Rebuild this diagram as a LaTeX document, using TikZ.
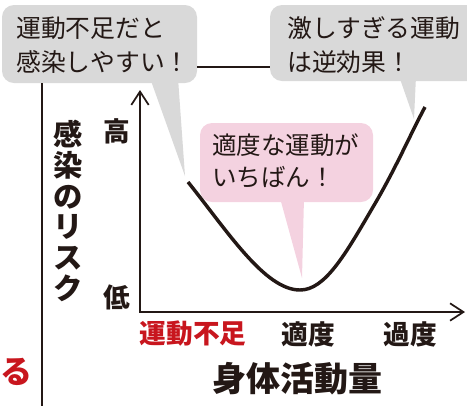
\documentclass[tikz,border=0pt]{standalone}
\usepackage{fontspec}
\setmainfont{Noto Sans CJK JP}
\usetikzlibrary{arrows.meta}
\definecolor{ink}{RGB}{35,24,21}
\definecolor{bubblegrey}{RGB}{217,217,217}
\definecolor{bubblepink}{RGB}{244,210,224}
\definecolor{alertred}{RGB}{200,22,30}
\tikzset{
  bubble/.style={rounded corners=9pt, inner sep=0pt},
  greybubble/.style={bubble, fill=bubblegrey},
  pinkbubble/.style={bubble, fill=bubblepink},
  btext/.style={anchor=west, align=left, inner sep=0pt, text=ink, font=\fontsize{18.6pt}{25.5pt}\selectfont},
  tick/.style={inner sep=0pt, text=ink, font=\bfseries\fontsize{20pt}{22pt}\selectfont},
  conn/.style={draw=ink, line width=1.1pt},
  axis/.style={draw=ink, line width=1.5pt, {Straight Barb[length=10pt,width=13pt,line width=1.3pt]}-{Straight Barb[length=10pt,width=13pt,line width=1.3pt]}},
  riskcurve/.style={draw=ink, line width=2.6pt}
}
\begin{document}
\begin{tikzpicture}[x=0.75pt,y=-0.75pt]
\useasboundingbox (0,0) rectangle (467,405);
% connectors between bubbles
\coordinate (h) at (0,67);
\coordinate (vb) at (42,410);
% left grey bubble
\node[greybubble, minimum width=146.25pt, minimum height=58.5pt] (c1) at (99.5,44) {};
\fill[bubblegrey] (150,78) -- (185,176) -- (178,78) -- cycle;
\node[btext] (t1) at (16,45) {運動不足だと\\感染しやすい！};
% right grey bubble
\node[greybubble, minimum width=159pt, minimum height=57pt] (c2) at (376,43) {};
\fill[bubblegrey] (399,76) -- (414,119) -- (416,76) -- cycle;
\node[btext] (t2) at (287,45) {激しすぎる運動\\は逆効果！};
\draw[conn] (c1.east |- h) -- (c2.west |- h);
\draw[conn] (c1.south -| vb) -- (vb);
% pink bubble
\node[pinkbubble, minimum width=129.75pt, minimum height=59.25pt] (c3) at (286.5,162.5) {};
\fill[bubblepink] (280,198) -- (302,278) -- (304,198) -- cycle;
\node[btext, font=\fontsize{18.4pt}{24pt}\selectfont] (t3) at (212,161) {適度な運動が\\いちばん！};
% axes
\coordinate (O) at (140,312);
\coordinate (ytop) at (140,90);
\coordinate (xend) at (465,312);
\draw[axis] (ytop) -- (O) -- (xend);
\node[tick] (hi) at (117,131) {高};
\node[tick] (lo) at (117,297) {低};
\node[inner sep=0pt, align=center, text=ink, font=\bfseries\fontsize{22pt}{23pt}\selectfont] (ylab) at (68,211) {感\\染\\の\\リ\\ス\\ク};
\node[tick, text=alertred] (x1) at (193,334) {運動不足};
\node[tick] (x2) at (308,334) {適度};
\node[tick] (x3) at (410,334) {過度};
\node[inner sep=0pt, text=ink, font=\bfseries\fontsize{25.5pt}{28pt}\selectfont] (xlab) at (297,379) {身体活動量};
\node[inner sep=0pt, text=alertred, font=\bfseries\fontsize{24pt}{28pt}\selectfont] (ru) at (16.5,372) {る};
% risk curve
\draw[riskcurve] (188,182) .. controls (228,232) and (265,290) .. (300,290)
  .. controls (325,290) and (345,255) .. (373,207)
  .. controls (395,170) and (410,135) .. (425,107);
\end{tikzpicture}
\end{document}
